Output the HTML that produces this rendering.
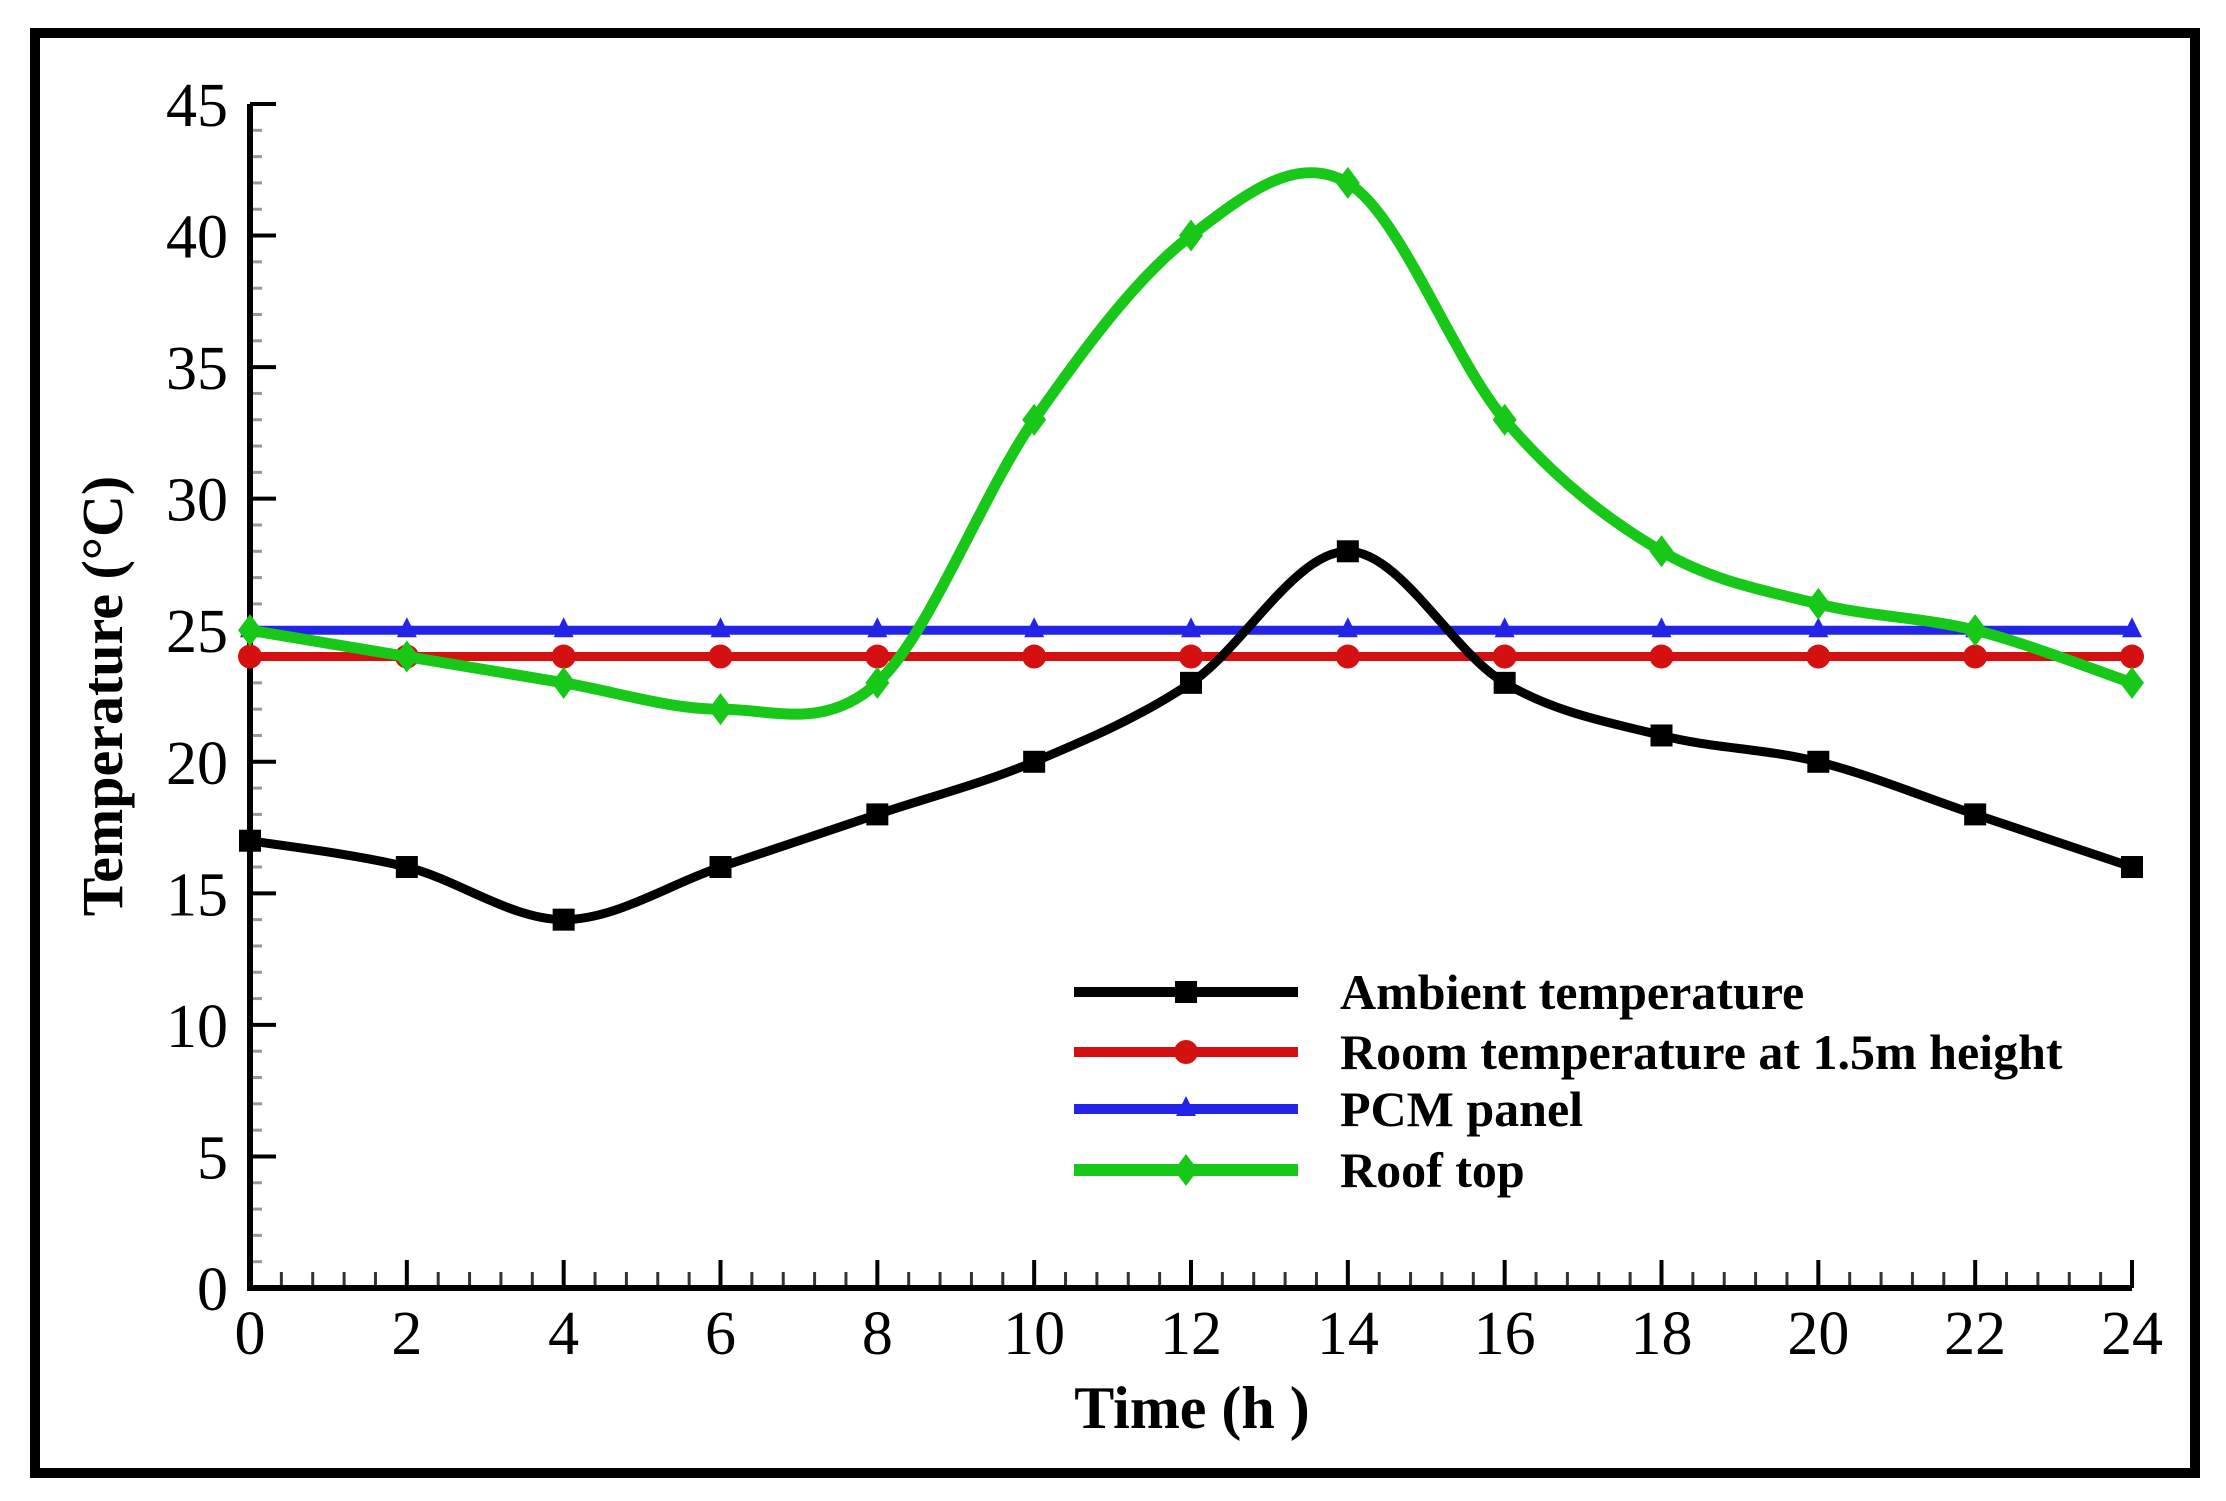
<!DOCTYPE html>
<html><head><meta charset="utf-8">
<style>
html,body{margin:0;padding:0;background:#fff;}
svg{display:block;}
text{font-family:"Liberation Serif",serif;}
</style></head>
<body>
<svg id="chart" width="2226" height="1501" viewBox="0 0 2226 1501" xmlns="http://www.w3.org/2000/svg">
<rect x="35" y="33" width="2160" height="1440" fill="#fff" stroke="#000" stroke-width="10"/>
<g id="grid"></g>
<g id="series"></g>
<g id="legend"></g>
<text transform="translate(122,696) rotate(-90)" text-anchor="middle" font-size="58" font-weight="bold">Temperature (°C)</text>
<text x="1192" y="1428" text-anchor="middle" font-size="60" font-weight="bold">Time (h  )</text>
</svg>
<script>
const hours = [0,2,4,6,8,10,12,14,16,18,20,22,24];
const ambient = [17,16,14,16,18,20,23,28,23,21,20,18,16];
const room = [24,24,24,24,24,24,24,24,24,24,24,24,24];
const pcm = [25,25,25,25,25,25,25,25,25,25,25,25,25];
const roof = [25,24,23,22,23,33,40,42,33,28,26,25,23];
const yTicks = [0,5,10,15,20,25,30,35,40,45];
const xTicks = [0,2,4,6,8,10,12,14,16,18,20,22,24];
const seriesNames = ["Ambient temperature","Room temperature at 1.5m height","PCM panel","Roof top"];

const NS="http://www.w3.org/2000/svg";
const X0=250,X1=2132,Y0=1288,Y1=104;
const sx=v=>X0+(v-0)/(24-0)*(X1-X0);
const sy=v=>Y0-(v-0)/(45-0)*(Y0-Y1);
function mk(tag,attrs,parent){const e=document.createElementNS(NS,tag);for(const k in attrs)e.setAttribute(k,attrs[k]);parent.appendChild(e);return e;}
const grid=document.getElementById('grid');
for(let v=0;v<=45;v+=1){if(v%5===0)continue;
 const t=mk('line',{x1:X0,x2:X0+12,y1:sy(v),y2:sy(v),stroke:'#999','stroke-width':3},grid);
 
 }
for(let v=0;v<=24.001;v+=0.4){if(Math.abs(v/2-Math.round(v/2))<0.01)continue;
 const t=mk('line',{x1:sx(v),x2:sx(v),y1:Y0,y2:Y0-16,stroke:'#333','stroke-width':3},grid);
 
 }
yTicks.forEach(v=>{
 const t=mk('line',{x1:X0,x2:X0+26,y1:sy(v),y2:sy(v),stroke:'#000','stroke-width':4},grid);
 
 
 const l=mk('text',{x:X0-22,y:sy(v)+22,'text-anchor':'end','font-size':62},grid);
 l.textContent=v;
 
 
});
xTicks.forEach(v=>{
 const t=mk('line',{x1:sx(v),x2:sx(v),y1:Y0,y2:Y0-28,stroke:'#000','stroke-width':4},grid);
 
 
 const l=mk('text',{x:sx(v),y:Y0+66,'text-anchor':'middle','font-size':62},grid);
 l.textContent=v;
 
 
});
const ax=mk('path',{d:`M${X0},${Y1} L${X0},${Y0} L${X1},${Y0}`,fill:'none',stroke:'#000','stroke-width':6},grid);



function smooth(xs,ys){
 const p=xs.map((x,i)=>[sx(x),sy(ys[i])]);
 let d=`M${p[0][0]},${p[0][1]}`;
 for(let i=0;i<p.length-1;i++){
  const a=p[Math.max(i-1,0)],b=p[i],c=p[i+1],e=p[Math.min(i+2,p.length-1)];
  const c1=[b[0]+(c[0]-a[0])/6,b[1]+(c[1]-a[1])/6],c2=[c[0]-(e[0]-b[0])/6,c[1]-(e[1]-b[1])/6];
  d+=` C${c1[0]},${c1[1]} ${c2[0]},${c2[1]} ${c[0]},${c[1]}`;
 }
 return d;
}
function marker(type,x,y,color,parent){
 let m;
 if(type==='square')m=mk('rect',{x:x-11,y:y-11,width:22,height:22,fill:color},parent);
 else if(type==='circle')m=mk('circle',{cx:x,cy:y,r:12,fill:color},parent);
 else if(type==='triangle')m=mk('path',{d:`M${x},${y-13} L${x+10},${y+7} L${x-10},${y+7}Z`,fill:color},parent);
 else m=mk('path',{d:`M${x},${y-16} L${x+12},${y} L${x},${y+16} L${x-12},${y}Z`,fill:color},parent);
 return m;
}
const sg=document.getElementById('series');
const defs=[[pcm,'#2424e8','triangle',9,'pcm-panel'],[room,'#d41010','circle',9,'room-temperature'],[ambient,'#000','square',9,'ambient-temperature'],[roof,'#18c818','diamond',11,'roof-top']];
defs.forEach(([vals,col,mt,w,name])=>{
 const g=mk('g',{},sg);
 
 
 const p=mk('path',{d:smooth(hours,vals),fill:'none',stroke:col,'stroke-width':w,'stroke-linejoin':'round'},g);
 
 
 hours.forEach((h,i)=>{
  const m=marker(mt,sx(h),sy(vals[i]),col,g);
  
  
 });
});
const lg=document.getElementById('legend');
const lcol=['#000','#d41010','#2424e8','#18c818'],lmk=['square','circle','triangle','diamond'],ly=[992,1052,1109,1170];
seriesNames.forEach((n,i)=>{
 const g=mk('g',{},lg);
 
 
 mk('line',{x1:1074,x2:1298,y1:ly[i],y2:ly[i],stroke:lcol[i],'stroke-width':i===3?12:10},g);
 marker(lmk[i],1186,ly[i],lcol[i],g);
 const t=mk('text',{x:1340,y:ly[i]+17,'font-size':50,'font-weight':'bold'},g);
 t.textContent=n;
});
</script>
</body></html>
